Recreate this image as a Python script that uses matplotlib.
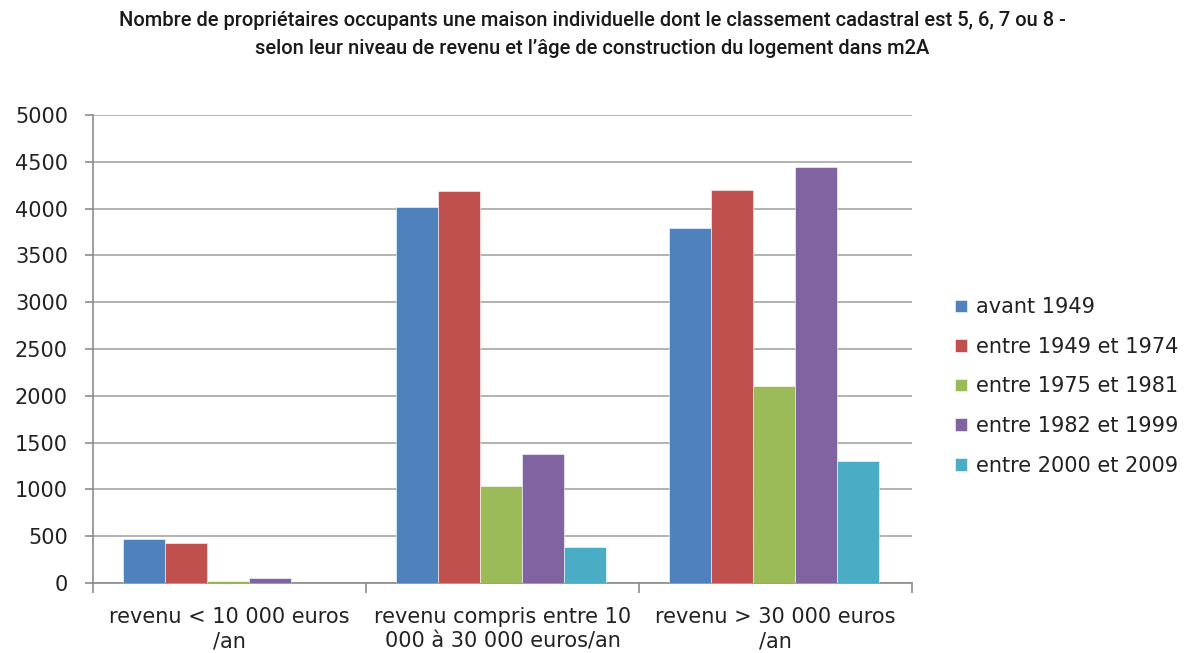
import matplotlib
matplotlib.use("Agg")
import matplotlib.pyplot as plt
import numpy as np

categories = ["revenu < 10 000 euros\n/an",
              "revenu compris entre 10\n000 à 30 000 euros/an",
              "revenu > 30 000 euros\n/an"]
series_names = ["avant 1949", "entre 1949 et 1974", "entre 1975 et 1981",
                "entre 1982 et 1999", "entre 2000 et 2009"]
avant_1949 = [470, 4020, 3790]
de_1949_a_1974 = [425, 4190, 4200]
de_1975_a_1981 = [25, 1040, 2110]
de_1982_a_1999 = [50, 1380, 4440]
de_2000_a_2009 = [0, 380, 1300]
yticks = [0, 500, 1000, 1500, 2000, 2500, 3000, 3500, 4000, 4500, 5000]

series_values = [avant_1949, de_1949_a_1974, de_1975_a_1981,
                 de_1982_a_1999, de_2000_a_2009]
colors = ["#4f81bd", "#c0504d", "#9bbb59", "#8064a2", "#4bacc6"]

plt.rcParams['font.family'] = ['DejaVu Sans']
TXT = "#222222"
FS = 15

fig = plt.figure(figsize=(11.85, 6.53), dpi=100)
ax = fig.add_axes([93 / 1185, 1 - 583 / 653, (912 - 93) / 1185, (583 - 115) / 653])

n = len(series_names)
bar_w = 0.154
x = np.arange(len(categories))
for i, (name, vals, c) in enumerate(zip(series_names, series_values, colors)):
    offs = (i - (n - 1) / 2) * bar_w - 0.005
    ax.bar(x + offs, vals, width=bar_w, color=c, label=name,
           edgecolor="white", linewidth=0.4, zorder=3)

ax.set_xlim(-0.5, 2.5)
ax.set_ylim(0, 5000)
ax.set_yticks(yticks)
ax.set_yticklabels([str(v) for v in yticks], fontsize=FS, color=TXT)
ax.yaxis.grid(True, color="#a6a6a6", linewidth=1.2, zorder=0)
ax.set_axisbelow(True)

ax.set_xticks([-0.5, 0.5, 1.5, 2.5])
ax.set_xticklabels([])
ax.set_xticks(x, minor=True)
ax.set_xticklabels(categories, minor=True, fontsize=FS, color=TXT,
                   linespacing=1.3)
ax.tick_params(axis="x", which="major", direction="out", length=7,
               color="#8c8c8c", width=1.2)
ax.tick_params(axis="x", which="minor", length=0, pad=17)
ax.tick_params(axis="y", direction="out", length=6, color="#8c8c8c",
               width=1.2, pad=12)

for side in ["top", "right"]:
    ax.spines[side].set_visible(False)
for side in ["left", "bottom"]:
    ax.spines[side].set_color("#8c8c8c")
    ax.spines[side].set_linewidth(1.2)

leg = fig.legend(loc="upper left", bbox_to_anchor=(947 / 1185, 1 - 289 / 653),
                 frameon=False, fontsize=FS, handlelength=0.55, handleheight=0.55,
                 handletextpad=0.45, labelspacing=0.94, borderaxespad=0)
for t in leg.get_texts():
    t.set_color(TXT)

title_font = ["Roboto", "DejaVu Sans"]
fig.text(0.5, 1 - 21 / 653,
         "Nombre de propriétaires occupants une maison individuelle dont le classement cadastral est 5, 6, 7 ou 8 -",
         ha="center", va="center", fontsize=14.5, family=title_font,
         fontweight="medium", color="#1a1a1a")
fig.text(0.5, 1 - 48 / 653,
         "selon leur niveau de revenu et l’âge de construction du logement dans m2A",
         ha="center", va="center", fontsize=14.5, family=title_font,
         fontweight="medium", color="#1a1a1a")

fig.savefig("out.png", dpi=100, facecolor="white")
